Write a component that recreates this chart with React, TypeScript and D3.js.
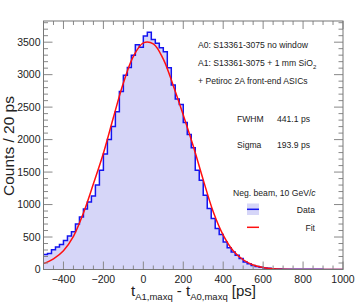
import { useEffect, useRef } from 'react';
import * as d3 from 'd3';

// 20 ps bins, lower edges from -500 ps
const binStart = -500;
const binWidth = 20;
const counts = [
  231, 245, 305, 345, 385, 445, 515, 580, 700, 810,
  930, 1040, 1130, 1300, 1530, 1780, 2000, 2200, 2430, 2740,
  2990, 3110, 3300, 3460, 3420, 3595, 3651, 3540, 3482, 3415,
  3353, 3106, 2840, 2624, 2540, 2265, 2080, 1874, 1530, 1376,
  1145, 940, 786, 632, 539, 425, 333, 271, 220, 169,
  117, 90, 62, 48, 35, 25, 18, 12, 9, 6,
  5, 4, 3, 3, 3, 4, 5, 4, 2, 2,
  1, 1, 1, 0, 0,
];

// fit curve samples (ps, counts)
const fitX = [
  -500, -450, -400, -350, -300, -250, -200, -150, -100, -50,
  0, 50, 100, 150, 200, 250, 300, 350, 400, 450,
  500, 550, 600, 650, 700, 750, 800, 900, 1000,
];
const fitY = [
  90, 165, 290, 510, 870, 1320, 1790, 2340, 2870, 3280,
  3490, 3475, 3240, 2830, 2380, 1900, 1380, 890, 530, 290,
  150, 70, 30, 11, 4, 1, 0, 0, 0,
];

const xTicks = [-400, -200, 0, 200, 400, 600, 800, 1000];
const yTicks = [0, 500, 1000, 1500, 2000, 2500, 3000, 3500];

const infoLines = ['A0: S13361-3075 no window', 'A1: S13361-3075 + 1 mm SiO', '+ Petiroc 2A front-end ASICs'];
const statNames = ['FWHM', 'Sigma'];
const statValues = ['441.1 ps', '193.9 ps'];
const legendLabels = ['Data', 'Fit'];

const W = 355;
const H = 302;
const margin = { top: 21, right: 12, bottom: 32.5, left: 43.5 };
const font = '"Liberation Sans", Arial, sans-serif';

export default function App() {
  const svgRef = useRef<SVGSVGElement | null>(null);

  useEffect(() => {
    if (!svgRef.current) return;
    const svg = d3.select(svgRef.current);
    svg.selectAll('*').remove();

    const x = d3.scaleLinear().domain([-500, 1000]).range([margin.left, W - margin.right]);
    const y = d3.scaleLinear().domain([0, 3826]).range([H - margin.bottom, margin.top]);

    const bins = counts.map((c, i) => ({ lo: binStart + i * binWidth, c }));
    const stepPts: [number, number][] = bins.map((b) => [b.lo, b.c]);
    stepPts.push([binStart + counts.length * binWidth, counts[counts.length - 1]]);

    svg
      .append('defs')
      .append('clipPath')
      .attr('id', 'frame')
      .append('rect')
      .attr('x', margin.left)
      .attr('y', margin.top)
      .attr('width', W - margin.left - margin.right)
      .attr('height', H - margin.top - margin.bottom);

    const plot = svg.append('g').attr('clip-path', 'url(#frame)');

    const area = d3
      .area<[number, number]>()
      .x((d) => x(d[0]))
      .y0(y(0))
      .y1((d) => y(d[1]))
      .curve(d3.curveStepAfter);
    plot.append('path').datum(stepPts).attr('d', area).attr('fill', '#d6d6f8');

    const line = d3
      .line<[number, number]>()
      .x((d) => x(d[0]))
      .y((d) => y(d[1]))
      .curve(d3.curveStepAfter);
    plot
      .append('path')
      .datum(stepPts)
      .attr('d', line)
      .attr('fill', 'none')
      .attr('stroke', '#1414f0')
      .attr('stroke-width', 1.5);

    const fit = d3
      .line<number>()
      .x((_, i) => x(fitX[i]))
      .y((d) => y(d))
      .curve(d3.curveCatmullRom);
    plot
      .append('path')
      .datum(fitY)
      .attr('d', fit)
      .attr('fill', 'none')
      .attr('stroke', '#ff1010')
      .attr('stroke-width', 1.5);

    // axes, ROOT style ticks inside the frame
    const tickCol = '#888';
    const minorX = d3.range(-500, 1001, 50);
    const minorY = d3.range(0, 3801, 100);
    const axes = svg.append('g').attr('stroke', tickCol).attr('stroke-width', 1);
    const x0 = margin.left, x1 = W - margin.right, y0 = H - margin.bottom, y1 = margin.top;
    minorX.forEach((v) => {
      const big = v % 200 === 0;
      const len = big ? 8 : 4;
      axes.append('line').attr('x1', x(v)).attr('x2', x(v)).attr('y1', y0).attr('y2', y0 - len);
      axes.append('line').attr('x1', x(v)).attr('x2', x(v)).attr('y1', y1).attr('y2', y1 + len);
    });
    minorY.forEach((v) => {
      const big = v % 500 === 0;
      const len = big ? 9 : 4.5;
      axes.append('line').attr('y1', y(v)).attr('y2', y(v)).attr('x1', x0).attr('x2', x0 + len);
      axes.append('line').attr('y1', y(v)).attr('y2', y(v)).attr('x1', x1).attr('x2', x1 - len);
    });
    svg
      .append('rect')
      .attr('x', x0)
      .attr('y', y1)
      .attr('width', x1 - x0)
      .attr('height', y0 - y1)
      .attr('fill', 'none')
      .attr('stroke', '#777')
      .attr('stroke-width', 1);

    const txt = svg.append('g').attr('font-family', font).attr('fill', '#222');
    xTicks.forEach((v) => {
      txt
        .append('text')
        .attr('x', x(v))
        .attr('y', y0 + 13.5)
        .attr('text-anchor', 'middle')
        .attr('font-size', 10.5)
        .text(v === 0 ? '0' : String(v).replace('-', '\u2212'));
    });
    yTicks.forEach((v) => {
      txt
        .append('text')
        .attr('x', x0 - 3)
        .attr('y', y(v) + 3.8)
        .attr('text-anchor', 'end')
        .attr('font-size', 10.5)
        .text(String(v));
    });

    txt
      .append('text')
      .attr('transform', 'translate(14,146) rotate(-90)')
      .attr('text-anchor', 'middle')
      .attr('font-size', 15.5)
      .text('Counts / 20 ps');

    const xt = txt.append('text').attr('x', 131).attr('y', 295.5).attr('font-size', 15);
    xt.append('tspan').text('t');
    xt.append('tspan').attr('font-size', 9.5).attr('dy', 4).text('A1,maxq');
    xt.append('tspan').attr('dy', -4).text(' - t');
    xt.append('tspan').attr('font-size', 9.5).attr('dy', 4).text('A0,maxq');
    xt.append('tspan').attr('dy', -4).text(' [ps]');

    const infoY = [48, 66, 84];
    infoLines.forEach((s, i) => {
      const t = txt.append('text').attr('x', 198).attr('y', infoY[i]).attr('font-size', 8.6).text(s);
      if (i === 1) t.append('tspan').attr('font-size', 6).attr('dy', 2.5).text('2');
    });

    const statY = [121.5, 147.5];
    statNames.forEach((s, i) => {
      txt.append('text').attr('x', 237).attr('y', statY[i]).attr('font-size', 8.6).text(s);
      txt.append('text').attr('x', 277).attr('y', statY[i]).attr('font-size', 8.6).text(statValues[i]);
    });

    const beam = txt.append('text').attr('x', 233).attr('y', 196).attr('font-size', 8.6);
    beam.append('tspan').text('Neg. beam, 10 GeV/');
    beam.append('tspan').attr('font-style', 'italic').text('c');

    // legend entries
    svg.append('rect').attr('x', 247).attr('y', 203.5).attr('width', 12).attr('height', 11.5).attr('fill', '#d6d6f8');
    svg.append('line').attr('x1', 247).attr('x2', 259).attr('y1', 209.3).attr('y2', 209.3).attr('stroke', '#1414f0').attr('stroke-width', 1.5);
    svg.append('line').attr('x1', 247).attr('x2', 259).attr('y1', 227.3).attr('y2', 227.3).attr('stroke', '#ff1010').attr('stroke-width', 1.5);
    const legY = [212.5, 230.5];
    legendLabels.forEach((s, i) => {
      txt.append('text').attr('x', 315).attr('y', legY[i]).attr('text-anchor', 'end').attr('font-size', 8.6).text(s);
    });
  }, []);

  return (
    <svg
      ref={svgRef}
      width={W}
      height={H}
      style={{ position: 'absolute', left: 0, top: 0, background: '#fff' }}
    />
  );
}
